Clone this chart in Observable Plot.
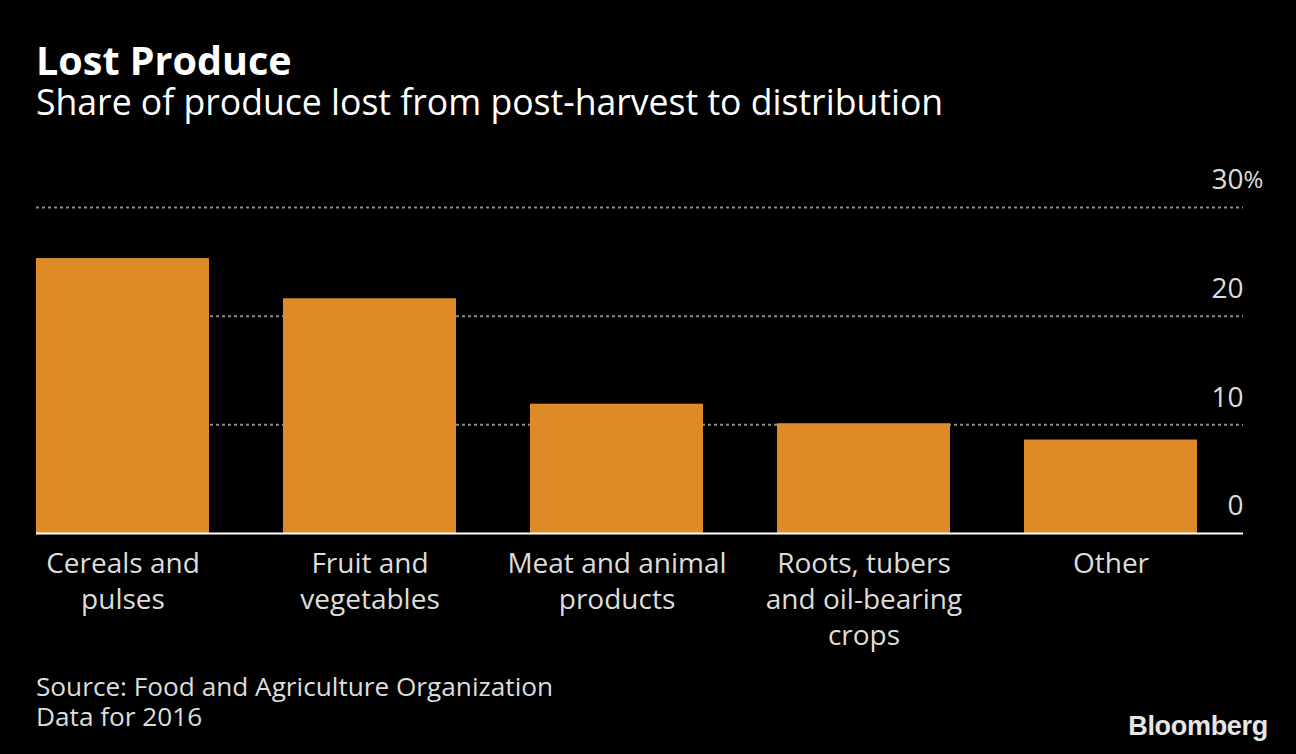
<!DOCTYPE html>
<html><head><meta charset="utf-8">
<script src="https://cdn.jsdelivr.net/npm/d3@7"></script>
<script src="https://cdn.jsdelivr.net/npm/@observablehq/plot@0.6"></script>
<style>
html,body{margin:0;padding:0;background:#000;}
body{width:1296px;height:754px;overflow:hidden;position:relative;font-family:"Open Sans",Roboto,sans-serif;}
#title{position:absolute;left:36px;top:41px;font-size:39.5px;font-weight:700;color:#fff;line-height:1;white-space:nowrap;}
#subtitle{position:absolute;left:36px;top:84px;font-size:35.6px;color:#fff;line-height:1;white-space:nowrap;}
#chart{position:absolute;left:0;top:140px;}
#source{position:absolute;left:36px;top:671px;font-size:26.2px;line-height:30px;color:#ddd;white-space:nowrap;}
#logo{position:absolute;right:28px;top:713px;font-family:"Liberation Sans",Arial,sans-serif;font-weight:700;font-size:27px;line-height:1;color:#e6e6e6;letter-spacing:-0.3px;}
</style>
</head><body>
<div id="title">Lost Produce</div>
<div id="subtitle">Share of produce lost from post-harvest to distribution</div>
<div id="chart"></div>
<div id="source">Source: Food and Agriculture Organization<br>Data for 2016</div>
<div id="logo">Bloomberg</div>
<script>
const categories = ["Cereals and\npulses", "Fruit and\nvegetables", "Meat and animal\nproducts", "Roots, tubers\nand oil-bearing\ncrops", "Other"];
const shares = [25.3, 21.6, 11.9, 10.1, 8.6];
const yTicks = [0, 10, 20, 30];

const data = categories.map((c, i) => ({category: c, share: shares[i]}));

const chart = Plot.plot({
  width: 1296,
  height: 540,
  marginTop: 67,
  marginBottom: 147,
  marginLeft: 36,
  marginRight: 53,
  style: {background: "#000", color: "#ddd", fontFamily: "'Open Sans', Roboto, sans-serif"},
  x: {domain: categories, paddingInner: 0.3, paddingOuter: 0, insetRight: 46, label: null},
  y: {domain: [0, 30], label: null},
  marks: [
    Plot.gridY(yTicks.filter(d => d > 0), {stroke: "#8c8c8c", strokeOpacity: 1, strokeWidth: 2, strokeDasharray: "3,3"}),
    Plot.barY(data, {x: "category", y: "share", fill: "#dd8a27"}),
    Plot.ruleY([0], {stroke: "#fff", strokeWidth: 2}),
    Plot.axisY(yTicks, {anchor: "right", tickSize: 0, tickPadding: 0, textAnchor: "end", dy: -27, fontSize: 28, fill: "#ddd", label: null}),
    Plot.text([yTicks[yTicks.length - 1]], {y: d => d, text: () => "%", frameAnchor: "right", textAnchor: "start", dy: -27, fontSize: 24, fill: "#ddd"}),
    Plot.axisX({tickSize: 0, tickPadding: 14, fontSize: 28, lineHeight: 1.286, fill: "#ddd", label: null})
  ]
});
document.getElementById("chart").appendChild(chart);
</script>
</body></html>
